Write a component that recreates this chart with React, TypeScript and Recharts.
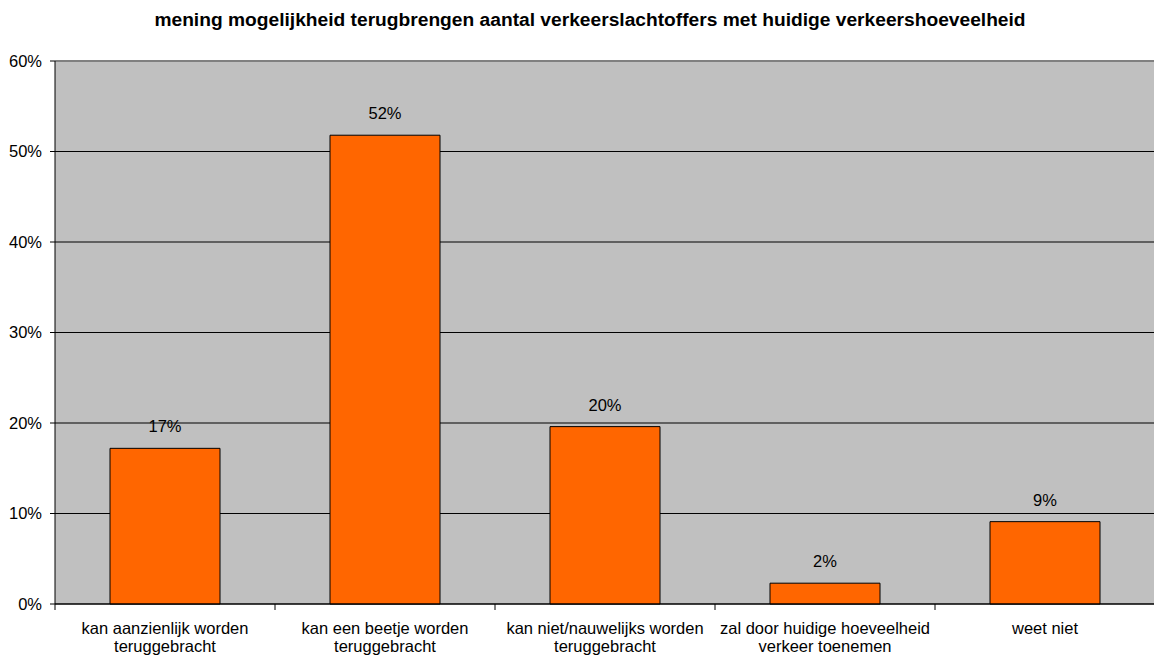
import { BarChart, Bar, XAxis, YAxis, CartesianGrid, LabelList, ReferenceLine } from 'recharts';

const categories = [
  ['kan aanzienlijk worden', 'teruggebracht'],
  ['kan een beetje worden', 'teruggebracht'],
  ['kan niet/nauwelijks worden', 'teruggebracht'],
  ['zal door huidige hoeveelheid', 'verkeer toenemen'],
  ['weet niet'],
];
const values = [17.2, 51.8, 19.6, 2.3, 9.1];
const valueLabels = ['17%', '52%', '20%', '2%', '9%'];
const yTicks = [0, 10, 20, 30, 40, 50, 60];

const W = 1154;
const H = 655;
const PLOT_LEFT = 55;
const PLOT_RIGHT = 1155;
const HALF_BAND = (PLOT_RIGHT - PLOT_LEFT) / categories.length / 2;

const data = categories.map((c, i) => ({
  name: String(i),
  value: values[i],
  label: valueLabels[i],
}));

const font = 'Arial, "Liberation Sans", sans-serif';

const CategoryTick = (props: any) => {
  const { x, y, payload, index } = props;
  const lines = categories[Number(payload.value)];
  return (
    <g>
      <line x1={x - HALF_BAND} y1={y} x2={x - HALF_BAND} y2={y + 6} stroke="#000" />
      {index === categories.length - 1 && (
        <line x1={x + HALF_BAND} y1={y} x2={x + HALF_BAND} y2={y + 6} stroke="#000" />
      )}
      <text x={x} y={y} textAnchor="middle" fontSize={16.5} fontFamily={font} fill="#000">
        {lines.map((l, i) => (
          <tspan key={i} x={x} dy={i === 0 ? 30 : 18}>
            {l}
          </tspan>
        ))}
      </text>
    </g>
  );
};

export default function App() {
  return (
    <div style={{ position: 'absolute', left: 0, top: 0, width: W, height: H, background: '#fff', overflow: 'hidden' }}>
      <div
        style={{
          position: 'absolute',
          left: 0,
          width: 1180,
          top: 9,
          textAlign: 'center',
          fontFamily: font,
          fontWeight: 'bold',
          fontSize: 19.2,
          whiteSpace: 'nowrap',
        }}
      >
        mening mogelijkheid terugbrengen aantal verkeerslachtoffers met huidige verkeershoeveelheid
      </div>
      <BarChart
        width={W + 1}
        height={H}
        data={data}
        margin={{ top: 61, right: 0, bottom: 0, left: 0 }}
        barCategoryGap="25%"
      >
        <CartesianGrid horizontal vertical={false} stroke="#000" fill="#C0C0C0" fillOpacity={1} />
        <XAxis
          dataKey="name"
          height={51}
          axisLine={{ stroke: '#000' }}
          tickLine={false}
          tickSize={0}
          tickMargin={0}
          tick={<CategoryTick />}
          interval={0}
        />
        <YAxis
          width={55}
          domain={[0, 60]}
          ticks={yTicks}
          tickFormatter={(v: number) => `${v}%`}
          axisLine={{ stroke: '#000' }}
          tickLine={{ stroke: '#000' }}
          tickSize={5}
          tickMargin={8}
          tick={{ fill: '#000', fontSize: 16.5, fontFamily: font }}
        />
        <ReferenceLine y={60} stroke="#808080" strokeWidth={2} />
        <Bar dataKey="value" fill="#FF6600" stroke="#000" strokeWidth={1} isAnimationActive={false}>
          <LabelList dataKey="label" position="top" offset={16} fill="#000" fontSize={16.5} fontFamily={font} />
        </Bar>
      </BarChart>
    </div>
  );
}
